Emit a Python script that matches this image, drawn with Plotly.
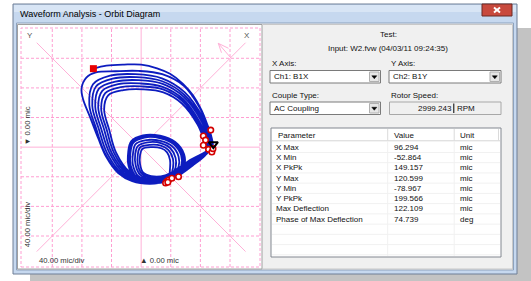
import plotly.graph_objects as go

W, H = 531, 281

# ---------------- orbit data (mic) ----------------
start_rev = [(-64.5,106),(-47,110),(-23,111.5),(0,111.5),(21.5,106.5),(39,99),(56.5,85.5),(70,70),(81.5,50),(89,31.5),(95,13.5),(96.5,1.5)]
inner_1 = [(96.5,1.5),(86.5,-11),(70,-24.5),(51,-38),(30,-47),(8,-48.5),(-8,-42),(-17,-25.5),(-17.5,-7),(-13.5,8),(2.5,16),(25.5,15.5),(46,7),(58,-9.5),(58,-25.5),(47,-38),(34,-46)]
outer_1 = [(36.5,-44.5),(11,-48),(-23,-35.5),(-43,-7.5),(-54,25),(-62,54.5),(-57,79),(-35,88.5),(-3.5,90.5),(29,85.5),(57.5,68),(81,36),(91,11.5),(94.5,-0.5)]
inner_2 = [(94.5,-1),(83,-10),(67.5,-20.5),(50.5,-32.5),(31.5,-41.5),(11.5,-43),(-1.5,-37),(-7.5,-24),(-8,-9.5),(-4.5,1.5),(9,6.5),(26.5,5.5),(39.5,-1.5),(46.5,-14.5),(46.5,-27.5),(41.5,-38),(35.5,-44)]
outer_2 = [(38,-43.5),(14.5,-46.5),(-17.5,-34.5),(-37,-7),(-46.5,23.5),(-54,52),(-48.5,73),(-27.5,81),(1,82),(29.5,78),(56,62),(77.5,32.5),(87.5,9),(93,-3)]
inner_3 = [(96,0.5),(85.5,-10.5),(69,-23),(51,-36),(30.5,-45),(9,-46.5),(-6,-40.5),(-14,-25),(-14.5,-8),(-10.5,6),(4.5,13),(26,12),(44,4),(54,-11),(54,-26),(45,-38),(34.5,-45.5)]
outer_3 = [(35,-46),(8,-49),(-28,-36.5),(-49,-8),(-61,26),(-70,57),(-65,85),(-42,96.5),(-8,98.5),(28,93),(59,74),(84,39),(94.5,13.5),(96,1.5)]
inner_4 = [(93,-2.5),(81,-9.5),(66,-17.5),(50,-28.5),(32.5,-38),(13.5,-39),(2.5,-34),(-1.5,-23),(-1.5,-11),(1.5,-2.5),(13.5,0),(27,-1.5),(35,-7),(39,-17.5),(39,-28.5),(38,-38),(36.5,-43)]
outer_4 = [(37.5,-44),(13,-47),(-20,-35),(-40,-7.5),(-50,24),(-58,53.5),(-52.5,76),(-31,85),(-1.5,86),(29,81.5),(56.5,65),(79,34),(89.5,10),(93.5,-2)]
inner_5 = [(95,0),(84,-10.5),(68.5,-21.5),(50.5,-34),(31,-43.5),(10,-44.5),(-4,-39),(-11,-24.5),(-11,-8.5),(-7.5,4),(7,9.5),(26,8.5),(41.5,1.5),(50.5,-12.5),(50.5,-26.5),(43.5,-38),(35,-44.5)]
outer_5 = [(39,-43),(16,-46),(-15,-34),(-34,-7),(-43,23),(-50,51),(-44.5,70),(-24,77),(3,78),(30,74),(55,59),(76,31),(86,8),(92,-4)]
inner_6 = [(93.5,-1.5),(82,-10),(67,-19),(50,-30.5),(32,-40),(12.5,-41),(0.5,-35.5),(-4.5,-23.5),(-4.5,-10),(-1.5,-0.5),(11.5,3),(26.5,2),(37,-4),(43,-16),(43,-28),(40,-38),(36,-43.5)]
outer_6 = [(36,-45.5),(9.5,-48.5),(-25.5,-36),(-46,-8),(-57.5,25.5),(-66,56),(-61,82),(-38.5,92.5),(-6,94.5),(28.5,89),(58,71),(82.5,37.5),(93,12.5),(95,0.5)]
inner_7 = [(96,1),(86,-11),(70,-24),(51,-37),(30,-46),(8.5,-47.5),(-7,-41),(-15.5,-25),(-16,-7.5),(-12,7),(3.5,14.5),(25.5,14),(45,5.5),(56,-10.5),(56,-26),(46,-38),(34,-45.5)]
last_rev = [(34,-46),(12,-49.5),(-12,-46),(-31,-35),(-47,-13.5),(-58,12),(-69,40.5),(-78.5,65),(-80.5,79.5),(-74,94),(-61,101),(-35,102.5),(-4,103),(28.5,98.5),(58,82.5),(79.5,52.5),(91,25.5),(96,9.5),(97,2.5)]

orbit_revs = [start_rev, inner_1, outer_1, inner_2, outer_2, inner_3, outer_3,
              inner_4, outer_4, inner_5, outer_5, inner_6, outer_6, inner_7, last_rev]

kp_right_x = [94, 84, 87, 84, 91, 95.5, 97]
kp_right_y = [23, 15, 9.5, 2.5, -3, -6.5, -2]
kp_bottom_x = [34.5, 37, 41.5, 50.5, 33, 36]
kp_bottom_y = [-46.5, -44.5, -42, -40, -48.5, -47.5]
start_x, start_y = [-64.5], [106]
end_x, end_y = [97.5], [4]

grid_lines = [-120, -80, -40, 40, 80, 120]
diag_end = 141
rot_arrow = [(121.3, 120.3), (104.2, 140.2)]   # tail, head
rot_barbs = [(118, 133.5), (108.5, 127.5)]

title_text = "Waveform Analysis - Orbit Diagram"
test_label = "Test:"
input_label = "Input: W2.fvw (04/03/11 09:24:35)"
x_axis_choice = "Ch1: B1X"
y_axis_choice = "Ch2: B1Y"
couple_choice = "AC Coupling"
rotor_speed = "2999.243"
rotor_unit = "RPM"
scale_label = "40.00 mic/div"
offset_label = "0.00 mic"

table_headers = ["Parameter", "Value", "Unit"]
param_names = ["X Max", "X Min", "X PkPk", "Y Max", "Y Min", "Y PkPk",
               "Max Deflection", "Phase of Max Deflection"]
param_values = ["96.294", "-52.864", "149.157", "120.599", "-78.967",
                "199.566", "122.109", "74.739"]
param_units = ["mic", "mic", "mic", "mic", "mic", "mic", "mic", "deg"]

# ---------------- assemble orbit ----------------
ox, oy = [], []
for rev in orbit_revs:
    for (x, y) in rev:
        if ox and ox[-1] == x and oy[-1] == y:
            continue
        ox.append(x)
        oy.append(y)

# ---------------- geometry helpers ----------------
def X(px):
    return px / W

def Y(py):
    return 1 - py / H

MIC_PER_PX = 40 / 29.62
CX, CY = 141.15, 147.15
PL, PR, PT, PB = 21, 260, 28, 267
x_range = [(PL - CX) * MIC_PER_PX, (PR - CX) * MIC_PER_PX]
y_range = [(CY - PB) * MIC_PER_PX, (CY - PT) * MIC_PER_PX]

shapes = []
annotations = []
FONT = "Liberation Sans, Arial, sans-serif"

def rect(x0, y0, x1, y1, fill=None, line=None, lw=1, dash=None, layer="below"):
    d = dict(type="rect", xref="paper", yref="paper",
             x0=X(x0), x1=X(x1), y0=Y(y1), y1=Y(y0),
             fillcolor=fill if fill else "rgba(0,0,0,0)",
             line=dict(color=line if line else "rgba(0,0,0,0)", width=lw if line else 0),
             layer=layer)
    if dash:
        d["line"]["dash"] = dash
    shapes.append(d)

def pline(x0, y0, x1, y1, color, lw=1, dash=None, layer="below"):
    d = dict(type="line", xref="paper", yref="paper",
             x0=X(x0), x1=X(x1), y0=Y(y0), y1=Y(y1),
             line=dict(color=color, width=lw), layer=layer)
    if dash:
        d["line"]["dash"] = dash
    shapes.append(d)

def tri_down(cx, cy, w=5, h=3):
    path = (f"M {X(cx - w/2)},{Y(cy - h/2)} L {X(cx + w/2)},{Y(cy - h/2)} "
            f"L {X(cx)},{Y(cy + h/2)} Z")
    shapes.append(dict(type="path", xref="paper", yref="paper", path=path,
                       fillcolor="black", line=dict(color="black", width=0.5), layer="below"))

def text(px, py, s, size=8, anchor="left", color="#111111", angle=0, yanchor="middle"):
    annotations.append(dict(xref="paper", yref="paper", x=X(px), y=Y(py), text=s,
                            showarrow=False, xanchor=anchor, yanchor=yanchor,
                            textangle=angle, borderpad=0,
                            font=dict(family=FONT, size=size, color=color)))

# ---------------- window chrome ----------------
rect(517, 28, 531, 281, fill="#C3C3C3")
rect(30, 274, 531, 281, fill="#C3C3C3")
rect(13, 4, 517, 274, fill="#C6D8EF", line="#6E7F96")
rect(14, 5, 516, 12, fill="#D8E5F5")
rect(16.5, 23, 513.5, 270, fill="#F0F0F0", line="#8DA2BD")
text(19, 14, title_text, size=9, color="#000000")
# close button
rect(482, 4, 512, 16, fill="#C8493D", line="#6B2A24")
pline(494, 7.5, 500, 12.5, "white", 2)
pline(494, 12.5, 500, 7.5, "white", 2)

# left (plot) panel frame
rect(17.5, 24.5, 262, 269, fill="#FFFFFF", line="#A0A0A0")
rect(PL, PT, PR, PB, line="#FF9ED2", lw=1, dash="3px,2px")

# right panel
rect(262.5, 24.5, 512.5, 269, fill="#F0F0F0", line="#C8C8C8")
text(388, 34, test_label, anchor="center")
text(388, 48, input_label, anchor="center")
text(270.5, 63, "X Axis:")
text(389.5, 63, "Y Axis:")

def combo(x0, x1, y0, y1, label):
    rect(x0, y0, x1, y1, fill="#FFFFFF", line="#7A7A7A")
    rect(x1 - 11, y0 + 1.5, x1 - 1.5, y1 - 1.5, fill="#E6E6E6", line="#B0B0B0")
    tri_down(x1 - 6.2, (y0 + y1) / 2 + 0.5)
    text(x0 + 2.5, (y0 + y1) / 2, label)

combo(270, 380.5, 70.5, 83, x_axis_choice)
combo(389, 501, 70.5, 83, y_axis_choice)
text(270.5, 95.5, "Couple Type:")
text(389.5, 95.5, "Rotor Speed:")
combo(270, 380.5, 102, 114.5, couple_choice)
rect(389.5, 102, 501, 114.5, fill="#F0F0F0", line="#A8A8A8")
text(453.3, 108.5, rotor_speed, anchor="right")
pline(453.8, 103.5, 453.8, 113, "#000000", 1)
text(455.5, 108.5, rotor_unit)

# table
TX0, TX1, TY0, TY1 = 271, 501, 128, 257
col_x = [387.7, 454.2, 498.5]
row_top = 142.2
row_h = 10.24
rect(TX0, TY0, TX1, TY1, fill="#FFFFFF", line="#828790")
pline(TX0 + 1, 140.8, TX1 - 1, 140.8, "#D5D5D5", 1)
for cx in col_x:
    pline(cx, 129, cx, 140.5, "#DADADA", 1)
for i in range(1, 12):
    yy = row_top + row_h * i
    if yy < TY1 - 1:
        pline(TX0 + 1, yy, TX1 - 1, yy, "#F1F1F1", 1)
for cx in col_x[:2]:
    pline(cx, 141, cx, TY1 - 1, "#F1F1F1", 1)
head_x = [276.5, 392.5, 459.3]
for hx, h in zip(head_x, table_headers):
    text(hx, 135, h)
for i, (n, v, u) in enumerate(zip(param_names, param_values, param_units)):
    yy = row_top + row_h * (i + 0.5)
    text(275, yy, n)
    text(392.5, yy, v)
    text(459.3, yy, u)

# plot labels
LBL = "#333333"
text(26, 35, "Y", size=8, color="#555555")
text(251, 35, "X", size=8, color="#555555", anchor="right")
text(27.3, 126, "\u25bc " + offset_label, size=7.7, color=LBL, anchor="center", angle=-90)
text(27.3, 225, scale_label, size=7.7, color=LBL, anchor="center", angle=-90)
text(38, 260.5, scale_label, size=7.7, color=LBL)
text(138.5, 260.5, "\u25b2 " + offset_label, size=7.7, color=LBL)

# grid in data coordinates
PINK_D = "#FF9ED2"
PINK_S = "#FFB1D8"
for g in grid_lines:
    shapes.append(dict(type="line", xref="x", yref="y domain", x0=g, x1=g, y0=0, y1=1,
                       line=dict(color=PINK_D, width=1, dash="3px,2px"), layer="below"))
    shapes.append(dict(type="line", xref="x domain", yref="y", x0=0, x1=1, y0=g, y1=g,
                       line=dict(color=PINK_D, width=1, dash="3px,2px"), layer="below"))
shapes.append(dict(type="line", xref="x", yref="y domain", x0=0, x1=0, y0=0, y1=1,
                   line=dict(color=PINK_S, width=1), layer="below"))
shapes.append(dict(type="line", xref="x domain", yref="y", x0=0, x1=1, y0=0, y1=0,
                   line=dict(color=PINK_S, width=1), layer="below"))
for s in (1, -1):
    shapes.append(dict(type="line", xref="x", yref="y", x0=-diag_end, x1=diag_end,
                       y0=-s * diag_end, y1=s * diag_end,
                       line=dict(color=PINK_S, width=1), layer="below"))
(tx, ty), (hx_, hy_) = rot_arrow
shapes.append(dict(type="line", xref="x", yref="y", x0=tx, y0=ty, x1=hx_, y1=hy_,
                   line=dict(color=PINK_S, width=1), layer="below"))
for bx, by in rot_barbs:
    shapes.append(dict(type="line", xref="x", yref="y", x0=hx_, y0=hy_, x1=bx, y1=by,
                       line=dict(color=PINK_S, width=1), layer="below"))

# ---------------- traces ----------------
fig = go.Figure()
fig.add_trace(go.Scatter(x=ox, y=oy, mode="lines",
                         line=dict(color="#0D1CBF", width=1.8, shape="spline", smoothing=1),
                         hoverinfo="skip"))
fig.add_trace(go.Scatter(x=kp_right_x + kp_bottom_x, y=kp_right_y + kp_bottom_y, mode="markers",
                         marker=dict(symbol="circle", size=5.5, color="white",
                                     line=dict(color="#D40000", width=1.6)),
                         hoverinfo="skip"))
fig.add_trace(go.Scatter(x=start_x, y=start_y, mode="markers",
                         marker=dict(symbol="square", size=7, color="#E80000",
                                     line=dict(width=0)), hoverinfo="skip"))
fig.add_trace(go.Scatter(x=end_x, y=end_y, mode="markers",
                         marker=dict(symbol="triangle-down-open", size=8, color="black",
                                     line=dict(color="black", width=2)), hoverinfo="skip"))

fig.update_layout(
    width=W, height=H, margin=dict(l=0, r=0, t=0, b=0),
    paper_bgcolor="white", plot_bgcolor="rgba(0,0,0,0)",
    showlegend=False,
    xaxis=dict(domain=[X(PL), X(PR)], range=x_range, visible=False, fixedrange=True),
    yaxis=dict(domain=[Y(PB), Y(PT)], range=y_range, visible=False, fixedrange=True),
    shapes=shapes, annotations=annotations,
)
fig.write_html("out.html", config={"displayModeBar": False},
               post_script="document.body.style.margin='0';document.body.style.overflow='hidden';")
